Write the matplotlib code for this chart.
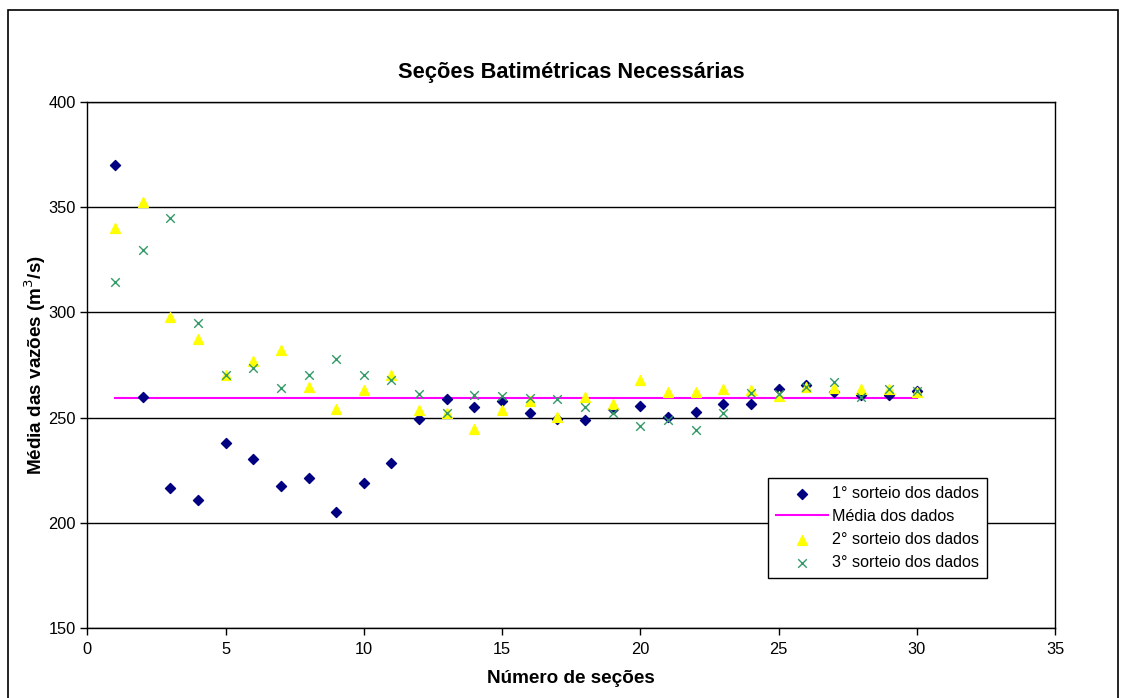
import matplotlib.pyplot as plt
from matplotlib.patches import Rectangle

plt.rcParams['font.family'] = ['Liberation Sans', 'DejaVu Sans']

# dados
secoes = list(range(1, 31))
sorteio1 = [370, 260, 216.5, 211, 237.8, 230.6, 217.6, 221.6, 205.4, 218.9,
            228.4, 249.4, 259.0, 255.0, 257.8, 252.4, 249.3, 248.7, 254.3, 255.4,
            250.5, 252.9, 256.6, 256.3, 263.5, 265.5, 262.2, 260.6, 260.8, 262.7]
sorteio2 = [340, 352.3, 297.9, 287.2, 270.1, 276.9, 282.3, 264.6, 254.3, 263,
            270.1, 253.8, 252.4, 244.8, 253.6, 257.9, 250.3, 259.8, 256.3, 267.7,
            262.2, 262.3, 263.6, 263.3, 260.5, 264.6, 264.2, 263.6, 263.6, 262.2]
sorteio3 = [314.7, 329.9, 344.8, 294.9, 270.1, 273.8, 264.3, 270.3, 278.1, 270.3,
            267.7, 261.4, 252.2, 260.9, 260.1, 259.3, 259.0, 255.0, 252.2, 245.9,
            248.7, 244.3, 252.2, 261.7, 261.4, 264.6, 266.9, 259.8, 263.6, 262.7]
media = 259.3

fig = plt.figure(figsize=(11.21, 6.98), dpi=100)
ax = fig.add_axes([0.0779, 0.0999, 0.8632, 0.754])

# moldura externa do gráfico
fig.patches.append(Rectangle((8 / 1121, -0.1), 1110 / 1121, 1.1 - 10 / 698,
                             transform=fig.transFigure, fill=False,
                             edgecolor='black', linewidth=1.2))

ax.scatter(secoes, sorteio1, marker='D', s=26, color='#000080', label='1° sorteio dos dados', zorder=3)
ax.plot([secoes[0], secoes[-1]], [media, media], color='#FF00FF', lw=1.5, label='Média dos dados', zorder=2)
ax.scatter(secoes, sorteio2, marker='^', s=50, color='#FFFF00', label='2° sorteio dos dados', zorder=3)
ax.scatter(secoes, sorteio3, marker='x', s=38, color='#339966', linewidths=1, label='3° sorteio dos dados', zorder=4)

ax.set_xlim(0, 35)
ax.set_ylim(150, 400)
ax.set_xticks(range(0, 36, 5))
ax.set_yticks(range(150, 401, 50))
ax.grid(axis='y', color='black', lw=1)
ax.set_axisbelow(True)
ax.tick_params(labelsize=11.8, direction='out', length=5, width=1)
ax.tick_params(axis='x', pad=5)
for sp in ax.spines.values():
    sp.set_linewidth(1)

ax.set_title('Seções Batimétricas Necessárias', fontsize=15.7, fontweight='bold', pad=17)
ax.set_xlabel('Número de seções', fontsize=13.6, fontweight='bold', labelpad=9)
ax.set_ylabel('Média das vazões (m$^3$/s)', fontsize=13.6, fontweight='bold', labelpad=0)

leg = ax.legend(loc='upper left', bbox_to_anchor=(768 / 1121, 1 - 478 / 698),
                bbox_transform=fig.transFigure, borderaxespad=0, fancybox=False,
                edgecolor='black', framealpha=1, fontsize=11.6, handlelength=3.2,
                handletextpad=0.3, labelspacing=0.5, borderpad=0.5)
leg.get_frame().set_linewidth(1)

fig.savefig('out.png', dpi=100)
